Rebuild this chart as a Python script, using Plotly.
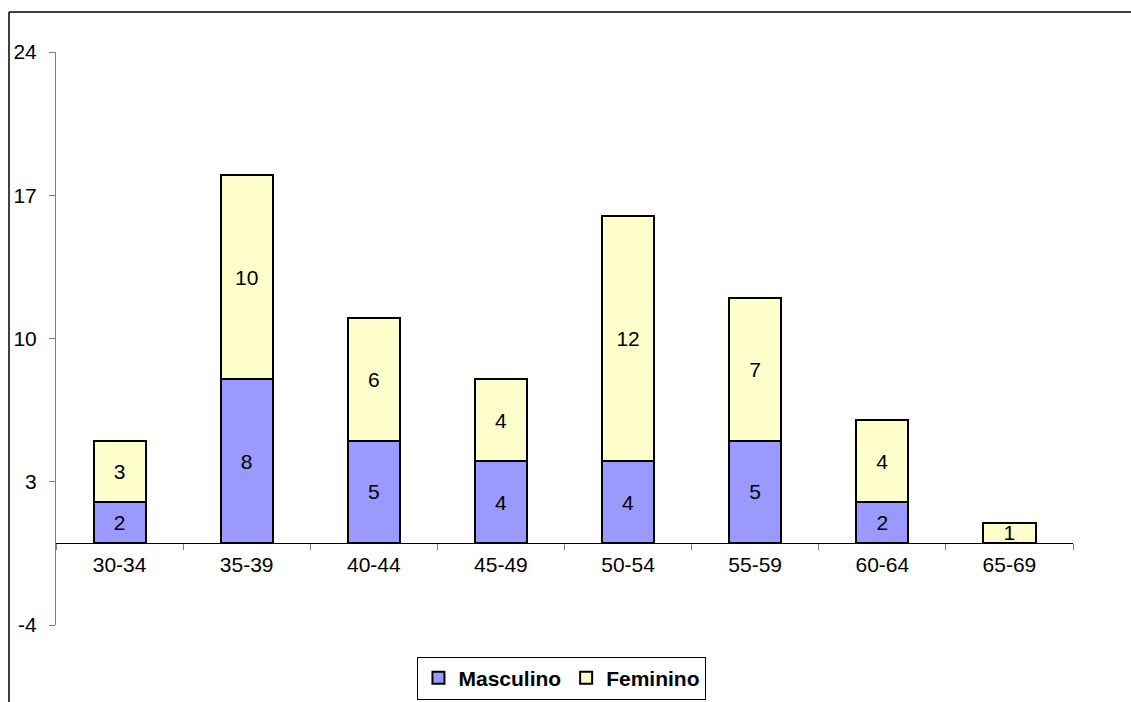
import plotly.graph_objects as go

# Faixas etárias e número de pessoas por sexo
faixas = ["30-34", "35-39", "40-44", "45-49", "50-54", "55-59", "60-64", "65-69"]
masculino = [2, 8, 5, 4, 4, 5, 2, 0]
feminino = [3, 10, 6, 4, 12, 7, 4, 1]

y_ticks = [-4, 3, 10, 17, 24]
y_tick_text = ["-4", "3", "10", "17", "24"]

FONT = "Liberation Sans, Arial, sans-serif"
FS = 21


def labels(vals):
    return [str(v) if v else "" for v in vals]


fig = go.Figure()
fig.add_trace(go.Bar(
    name="Masculino", x=faixas, y=masculino,
    marker=dict(color="#9999FF", line=dict(color="black", width=2)),
    text=labels(masculino), textposition="inside", insidetextanchor="middle",
    constraintext="none", textangle=0,
    textfont=dict(family=FONT, size=FS, color="black"),
))
fig.add_trace(go.Bar(
    name="Feminino", x=faixas, y=feminino,
    marker=dict(color="#FFFFCC", line=dict(color="black", width=2)),
    text=labels(feminino), textposition="inside", insidetextanchor="middle",
    constraintext="none", textangle=0,
    textfont=dict(family=FONT, size=FS, color="black"),
))

fig.update_layout(
    barmode="stack",
    bargap=0.59,
    width=1131, height=702,
    margin=dict(l=56, r=58, t=52, b=77, autoexpand=False),
    paper_bgcolor="white", plot_bgcolor="white",
    font=dict(family=FONT, size=FS, color="black"),
    showlegend=True,
    legend=dict(
        orientation="h", x=0.4975, xanchor="center", y=-0.055, yanchor="top",
        bordercolor="black", borderwidth=1, bgcolor="white",
        font=dict(family=FONT, size=FS, color="black", weight="bold"),
        itemsizing="constant", traceorder="normal", itemwidth=30,
    ),
    xaxis=dict(
        anchor="free", position=4 / 28,
        showline=True, linecolor="black", linewidth=1,
        ticks="outside", tickson="boundaries", ticklen=6, tickcolor="#808080",
        ticklabelstandoff=3,
        showgrid=False, zeroline=False,
    ),
    yaxis=dict(
        range=[-4, 24], tickvals=y_ticks, ticktext=y_tick_text,
        showline=True, linecolor="#808080", linewidth=1,
        ticks="outside", ticklen=6, tickcolor="#808080",
        ticklabelstandoff=8,
        showgrid=False, zeroline=False,
    ),
)

# Moldura externa do gráfico (topo e lado esquerdo)
fig.add_shape(type="line", xref="paper", yref="paper",
              x0=-47 / 1017, x1=1.08, y0=613 / 573, y1=613 / 573,
              line=dict(color="black", width=1.5))
fig.add_shape(type="line", xref="paper", yref="paper",
              x0=-47 / 1017, x1=-47 / 1017, y0=613 / 573, y1=-0.2,
              line=dict(color="black", width=1.5))

fig.write_html("out.html")
